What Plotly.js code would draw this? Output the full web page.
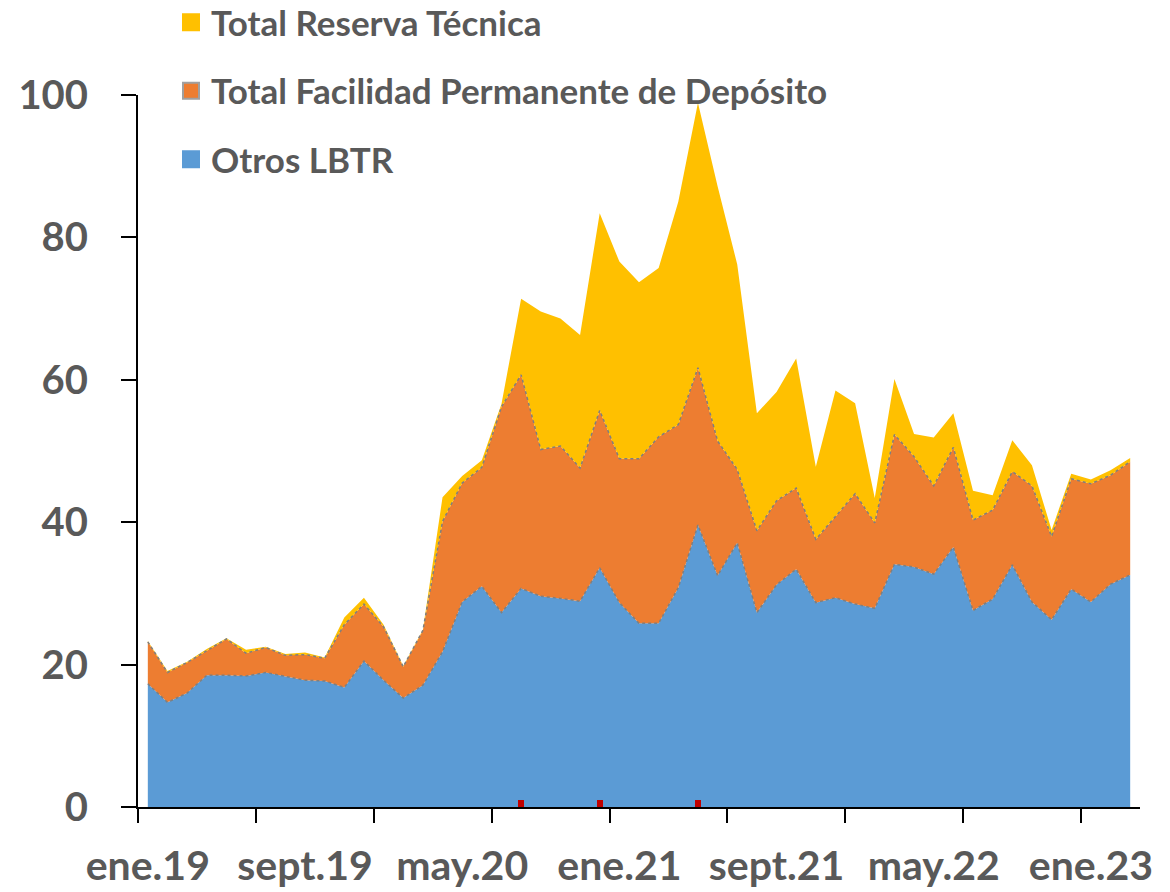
<!DOCTYPE html>
<html>
<head>
<meta charset="utf-8">
<script src="https://cdn.plot.ly/plotly-3.0.1.min.js"></script>
<style>
  html, body { margin: 0; padding: 0; background: #ffffff; }
  #chart { width: 1170px; height: 892px; }
</style>
</head>
<body>
<div id="chart"></div>
<script>
// Meses (ene.19 – mar.23)
const meses = [
  'ene.19','feb.19','mar.19','abr.19','may.19','jun.19','jul.19','ago.19','sept.19','oct.19','nov.19','dic.19',
  'ene.20','feb.20','mar.20','abr.20','may.20','jun.20','jul.20','ago.20','sept.20','oct.20','nov.20','dic.20',
  'ene.21','feb.21','mar.21','abr.21','may.21','jun.21','jul.21','ago.21','sept.21','oct.21','nov.21','dic.21',
  'ene.22','feb.22','mar.22','abr.22','may.22','jun.22','jul.22','ago.22','sept.22','oct.22','nov.22','dic.22',
  'ene.23','feb.23','mar.23'
];

// Otros LBTR
const otrosLBTR = [
  17.3, 14.7, 16.0, 18.5, 18.5, 18.4, 18.9, 18.4, 17.8, 17.7, 16.8, 20.5,
  17.8, 15.3, 17.1, 21.8, 28.8, 31.0, 27.3, 30.7, 29.6, 29.3, 28.9, 33.6,
  28.7, 25.8, 25.8, 30.8, 39.6, 32.5, 37.1, 27.3, 31.2, 33.4, 28.7, 29.4,
  28.5, 27.9, 34.1, 33.7, 32.7, 36.5, 27.6, 29.2, 34.0, 28.8, 26.3, 30.6,
  28.8, 31.3, 32.6
];

// Total Facilidad Permanente de Depósito
const facilidadDeposito = [
  5.9, 4.2, 4.3, 3.5, 5.1, 3.2, 3.5, 2.9, 3.6, 3.2, 8.8, 8.0,
  7.5, 4.4, 7.7, 18.3, 16.7, 16.7, 28.9, 30.0, 20.6, 21.4, 18.7, 22.1,
  20.2, 23.1, 26.2, 22.9, 22.1, 18.9, 10.3, 11.5, 11.8, 11.4, 8.9, 11.4,
  15.5, 12.0, 18.2, 15.5, 12.4, 14.0, 12.7, 12.5, 13.1, 16.3, 11.7, 15.5,
  16.6, 15.3, 15.9
];

// Total Reserva Técnica
const reservaTecnica = [
  0.1, 0.2, 0.1, 0.2, 0.1, 0.5, 0.1, 0.2, 0.3, 0.1, 1.0, 0.9,
  0.3, 0.1, 0.1, 3.4, 1.0, 1.0, 0.4, 10.7, 19.4, 17.9, 18.7, 27.7,
  27.7, 24.8, 23.7, 31.3, 37.2, 35.8, 28.8, 16.5, 15.3, 18.2, 10.2, 17.7,
  12.7, 3.5, 7.8, 3.2, 6.8, 4.8, 4.1, 2.1, 4.4, 2.9, 0.9, 0.7,
  0.6, 0.7, 0.5
];

// Pequeñas marcas rojas sobre el eje
const marcas = meses.map(m => (m === 'ago.20' || m === 'dic.20' || m === 'may.21') ? 1.0 : null);

// Etiquetas del eje x (cada 8 meses)
const etiquetasX = ['ene.19', 'sept.19', 'may.20', 'ene.21', 'sept.21', 'may.22', 'ene.23'];

const nombres = ['Total Reserva Técnica', 'Total Facilidad Permanente de Depósito', 'Otros LBTR'];
const colores = { reserva: '#FFC000', facilidad: '#ED7D31', otros: '#5B9BD5' };

const FONT = 'Lato, "Open Sans", sans-serif';
const GRIS = '#595959';

const traces = [
  {
    type: 'scatter', mode: 'lines', x: meses, y: otrosLBTR, stackgroup: 'a',
    name: nombres[2], showlegend: false, fillcolor: colores.otros,
    line: { color: '#7f7f7f', width: 1.5, dash: 'dot' }, hoverinfo: 'x+y+name'
  },
  {
    type: 'scatter', mode: 'lines', x: meses, y: facilidadDeposito, stackgroup: 'a',
    name: nombres[1], showlegend: false, fillcolor: colores.facilidad,
    line: { color: '#7f7f7f', width: 1.5, dash: 'dot' }, hoverinfo: 'x+y+name'
  },
  {
    type: 'scatter', mode: 'lines', x: meses, y: reservaTecnica, stackgroup: 'a',
    name: nombres[0], showlegend: false, fillcolor: colores.reserva,
    line: { color: colores.reserva, width: 0 }, hoverinfo: 'x+y+name'
  },
  {
    type: 'bar', x: meses, y: marcas, xaxis: 'x2', width: 0.3,
    marker: { color: '#C00000', line: { width: 0 } }, showlegend: false, hoverinfo: 'skip'
  },
  // entradas de leyenda
  {
    type: 'scatter', mode: 'markers', x: [null], y: [null], name: nombres[0], legendgroup: 'g1',
    marker: { symbol: 'square', size: 20, color: colores.reserva, line: { width: 2, color: colores.reserva } }
  },
  {
    type: 'scatter', mode: 'markers', x: [null], y: [null], name: nombres[1], legendgroup: 'g2',
    marker: { symbol: 'square', size: 20, color: colores.facilidad, line: { width: 2, color: '#a0a0a0' } }
  },
  {
    type: 'scatter', mode: 'markers', x: [null], y: [null], name: nombres[2], legendgroup: 'g3',
    marker: { symbol: 'square', size: 20, color: colores.otros, line: { width: 2, color: colores.otros } }
  }
];

const layout = {
  width: 1170, height: 892,
  margin: { l: 138, r: 30, t: 95, b: 85, pad: 0, autoexpand: false },
  paper_bgcolor: '#ffffff', plot_bgcolor: '#ffffff',
  font: { family: FONT, color: GRIS, size: 40, weight: 'bold' },
  showlegend: true,
  legend: {
    xref: 'container', yref: 'paper',
    x: 171 / 1170, y: 1 + (95 + 7) / 712, xanchor: 'left', yanchor: 'top',
    bgcolor: 'rgba(0,0,0,0)', borderwidth: 0,
    traceorder: 'grouped', tracegroupgap: 20,
    font: { family: FONT, size: 35, color: GRIS, weight: 'bold' }
  },
  xaxis: {
    type: 'category', categoryorder: 'array', categoryarray: meses,
    range: [-0.5, meses.length - 0.5],
    tickmode: 'array', tickvals: etiquetasX, ticktext: etiquetasX,
    ticks: '', ticklabelstandoff: 22, tickangle: 0,
    showline: true, linecolor: '#000000', linewidth: 2,
    showgrid: false, zeroline: false, fixedrange: true,
    tickfont: { family: FONT, size: 41, color: GRIS, weight: 'bold' }
  },
  xaxis2: {
    type: 'category', categoryorder: 'array', categoryarray: meses,
    overlaying: 'x', anchor: 'y', side: 'bottom',
    range: [-0.5, meses.length - 0.5],
    tickmode: 'linear', dtick: 6, tickson: 'boundaries',
    ticks: 'outside', ticklen: 15, tickwidth: 2, tickcolor: '#000000',
    showticklabels: false, showline: false, showgrid: false, zeroline: false, fixedrange: true
  },
  yaxis: {
    range: [0, 100], dtick: 20, tick0: 0,
    ticks: 'outside', ticklen: 15, tickwidth: 2, tickcolor: '#000000',
    ticklabelstandoff: 25,
    showline: true, linecolor: '#000000', linewidth: 2,
    showgrid: false, zeroline: false, fixedrange: true,
    tickfont: { family: FONT, size: 40, color: GRIS, weight: 'bold' }
  },
  bargap: 0
};

Plotly.newPlot('chart', traces, layout, { displayModeBar: false, staticPlot: true });
</script>
</body>
</html>
